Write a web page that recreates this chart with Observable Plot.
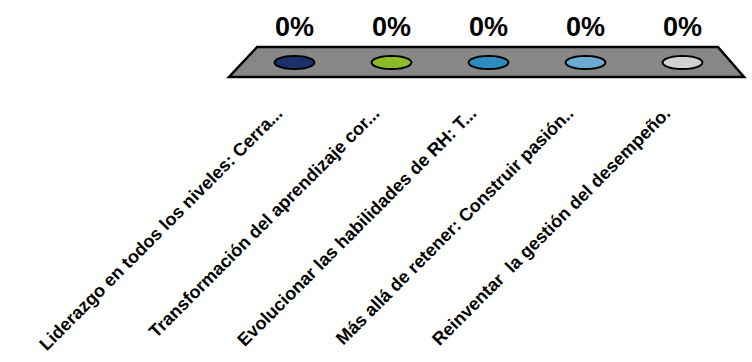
<!DOCTYPE html>
<html><head><meta charset="utf-8">
<script src="https://cdn.jsdelivr.net/npm/d3@7"></script>
<script src="https://cdn.jsdelivr.net/npm/@observablehq/plot@0.6"></script>
<style>body{margin:0;background:#fff}</style>
</head><body><div id="chart"></div>
<script>
const categories = ["A", "B", "C", "D", "E"];
const tickLabels = [
  "Liderazgo en todos los niveles: Cerra...",
  "Transformación del aprendizaje cor...",
  "Evolucionar las habilidades de RH: T...",
  "Más allá de retener: Construir pasión..",
  "Reinventar  la gestión del desempeño."
];
const values = [0, 0, 0, 0, 0];
const colors = ["#1b2f6b", "#8dba27", "#2b8dbf", "#6aabcf", "#d2d2d2"];

const data = categories.map((c, i) => ({category: c, value: values[i], label: tickLabels[i], color: colors[i]}));

// flattened ellipse symbol for zero-height bars
const ellipse = {
  draw(context, size) {
    const r = Math.sqrt(size / Math.PI);
    const rx = r, ry = r * 0.33;
    const n = 24;
    for (let k = 0; k <= n; ++k) {
      const a = (k / n) * 2 * Math.PI;
      const px = rx * Math.cos(a), py = ry * Math.sin(a);
      if (k === 0) context.moveTo(px, py); else context.lineTo(px, py);
    }
    context.closePath();
  }
};

// floor of the 3D chart, positioned from the scales
function floor(index, scales, values, dimensions, context) {
  const xa = scales.x(categories[0]);
  const xb = scales.x(categories[categories.length - 1]);
  const step = (xb - xa) / (categories.length - 1);
  const y0 = scales.y(0);
  const depth = 15;
  const pts = [
    [xa - step * 0.38, y0 - depth],
    [xb + step * 0.37, y0 - depth],
    [xb + step * 0.64, y0 + depth],
    [xa - step * 0.67, y0 + depth]
  ];
  const p = d3.create("svg:polygon")
    .attr("points", pts.map(d => d.join(",")).join(" "))
    .attr("fill", "#878787")
    .attr("stroke", "#000")
    .attr("stroke-width", 2.5)
    .attr("stroke-linejoin", "miter");
  return p.node();
}

const chart = Plot.plot({
  width: 752,
  height: 362,
  marginTop: 0,
  marginBottom: 250,
  marginLeft: 0,
  marginRight: 0,
  style: {fontFamily: "'Liberation Sans', Arial, sans-serif", background: "#fff", color: "#000"},
  x: {type: "point", domain: categories, range: [293, 682], padding: 0, label: null},
  y: {domain: [0, 100], range: [62, 0], axis: null, label: null},
  marks: [
    floor,
    Plot.dot(data, {x: "category", y: "value", r: 20, symbol: ellipse, fill: "color", stroke: "#000", strokeWidth: 2}),
    Plot.text(data, {x: "category", y: "value", text: d => d3.format(".0%")(d.value), dy: -35, fontSize: 27, fontWeight: "bold", fill: "#000"}),
    Plot.axisX({anchor: "bottom", tickSize: 0, tickPadding: 0, tickRotate: -45, tickFormat: (d, i) => tickLabels[categories.indexOf(d)], fontSize: 18, fontWeight: "bold", dx: -15, dy: -2, fill: "#000", label: null})
  ]
});
document.getElementById("chart").append(chart);
</script>
</body></html>
